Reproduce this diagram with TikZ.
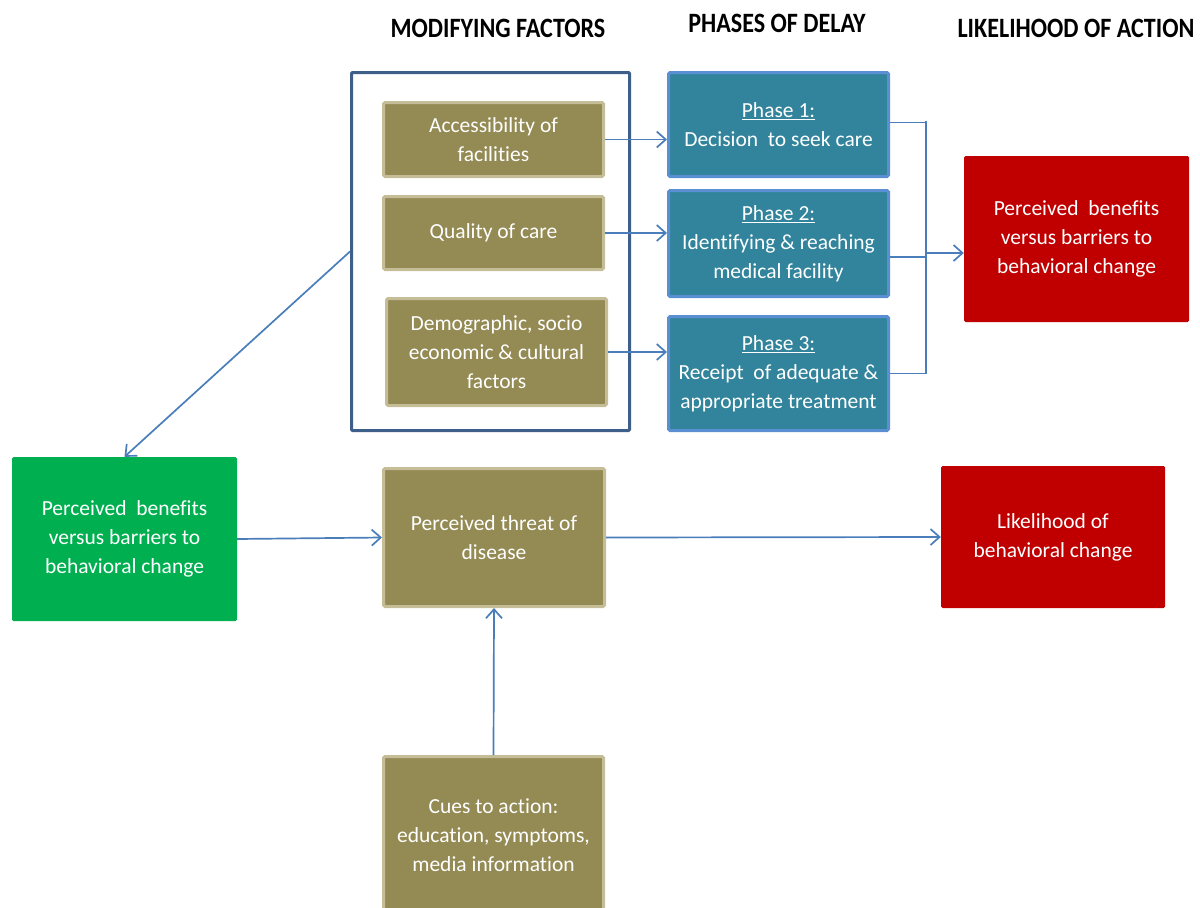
\documentclass[tikz,border=0pt]{standalone}
\usepackage{fontspec}
\setmainfont[Ligatures=NoCommon]{Carlito}
\usetikzlibrary{arrows.meta}
\definecolor{olive}{HTML}{948A54}
\definecolor{olivebd}{HTML}{C4BD97}
\definecolor{teal}{HTML}{31849B}
\definecolor{tealbd}{HTML}{5A8FD4}
\definecolor{framec}{HTML}{3E5F8A}
\definecolor{redbox}{HTML}{C00000}
\definecolor{greenbox}{HTML}{00B050}
\definecolor{link}{HTML}{4A7EBB}
\tikzset{
  txt/.style={text=white, align=center, font=\fontsize{21.5}{29}\selectfont, inner sep=0pt},
  olivebox/.style={txt, fill=olive, draw=olivebd, line width=3pt, rounded corners=1.5pt, minimum width=220pt},
  phasebox/.style={txt, fill=teal, draw=tealbd, line width=3pt, rounded corners=1.5pt, minimum width=220pt},
  redbx/.style={txt, fill=redbox, rounded corners=1.5pt},
  greenbx/.style={txt, fill=greenbox, rounded corners=1.5pt},
  framebox/.style={draw=framec, line width=3pt, rounded corners=1pt, inner sep=0pt},
  header/.style={font=\fontsize{28}{30}\selectfont\bfseries, inner sep=0pt},
  conn/.style={draw=link, line width=1.7pt},
  arr/.style={conn, -{Straight Barb[length=9pt,width=16pt,line width=1.7pt]}},
}
\newcommand{\hdr}[1]{\scalebox{0.86}[1]{#1}}
\begin{document}
\begin{tikzpicture}[x=1pt,y=-1pt]
\useasboundingbox (0,0) rectangle (1200,908);

% column headings
\node[header] (h1) at (498,28) {\hdr{MODIFYING FACTORS}};
\node[header] (h2) at (777,23) {\hdr{PHASES OF DELAY}};
\node[header] (h3) at (1076,28) {\hdr{LIKELIHOOD OF ACTION}};

% modifying factors group
\node[framebox, minimum width=278pt, minimum height=358pt] (mf) at (490.5,251.5) {};
\node[olivebox, minimum height=74pt] (acc) at (493.5,139.5) {Accessibility of\\facilities};
\node[olivebox, minimum height=73pt] (qual) at (493.5,233) {Quality of care};
\node[olivebox, minimum height=107pt] (demo) at (496.5,352) {Demographic, socio\\economic \& cultural\\factors};

% phases of delay
\node[phasebox, minimum height=104pt] (ph1) at (778.5,124.5) {\underline{Phase 1:}\\Decision\ \ to seek care};
\node[phasebox, minimum height=106pt] (ph2) at (778.5,243.5) {\underline{Phase 2:}\\Identifying \& reaching\\medical facility};
\node[phasebox, minimum height=114pt] (ph3) at (778.5,373.5) {\underline{Phase 3:}\\Receipt\ \ of adequate \&\\appropriate treatment};

% outcome boxes
\node[redbx, minimum width=225pt, minimum height=166pt] (red1) at (1076.5,239) {Perceived\ \ benefits\\versus barriers to\\behavioral change};
\node[greenbx, minimum width=225pt, minimum height=164pt] (grn) at (124.5,539) {Perceived\ \ benefits\\versus barriers to\\behavioral change};
\node[olivebox, minimum width=221pt, minimum height=138pt] (threat) at (494,537.5) {Perceived threat of\\disease};
\node[redbx, minimum width=224pt, minimum height=142pt] (red2) at (1053,537) {Likelihood of\\behavioral change};
\node[olivebox, minimum height=157pt] (cues) at (493.5,835) {Cues to action:\\education, symptoms,\\media information};

% factors to phases
\draw[arr] (acc.east) -- (acc.east -| ph1.west);
\draw[arr] (qual.east) -- (qual.east -| ph2.west);
\draw[arr] (demo.east) -- (demo.east -| ph3.west);

% phases merge into one arrow
\coordinate (jn) at (926,253);
\coordinate (p1out) at ([yshift=2pt]ph1.east);
\coordinate (p2out) at ([yshift=-13.5pt]ph2.east);
\draw[conn] (p1out) -- (p1out -| jn);
\draw[conn] (p2out) -- (p2out -| jn);
\draw[conn] (ph3.east) -- (ph3.east -| jn);
\draw[conn] ([yshift=2pt]jn |- p1out) -- (jn |- ph3.east);
\draw[arr] (jn) -- (jn -| red1.west);

% lower chain
\draw[arr] (mf.west) -- (grn.north);
\draw[arr] (grn.east) -- (threat.west);
\draw[arr] (threat.east) -- (red2.west);
\draw[arr] (cues.north) -- (threat.south);
\end{tikzpicture}
\end{document}
